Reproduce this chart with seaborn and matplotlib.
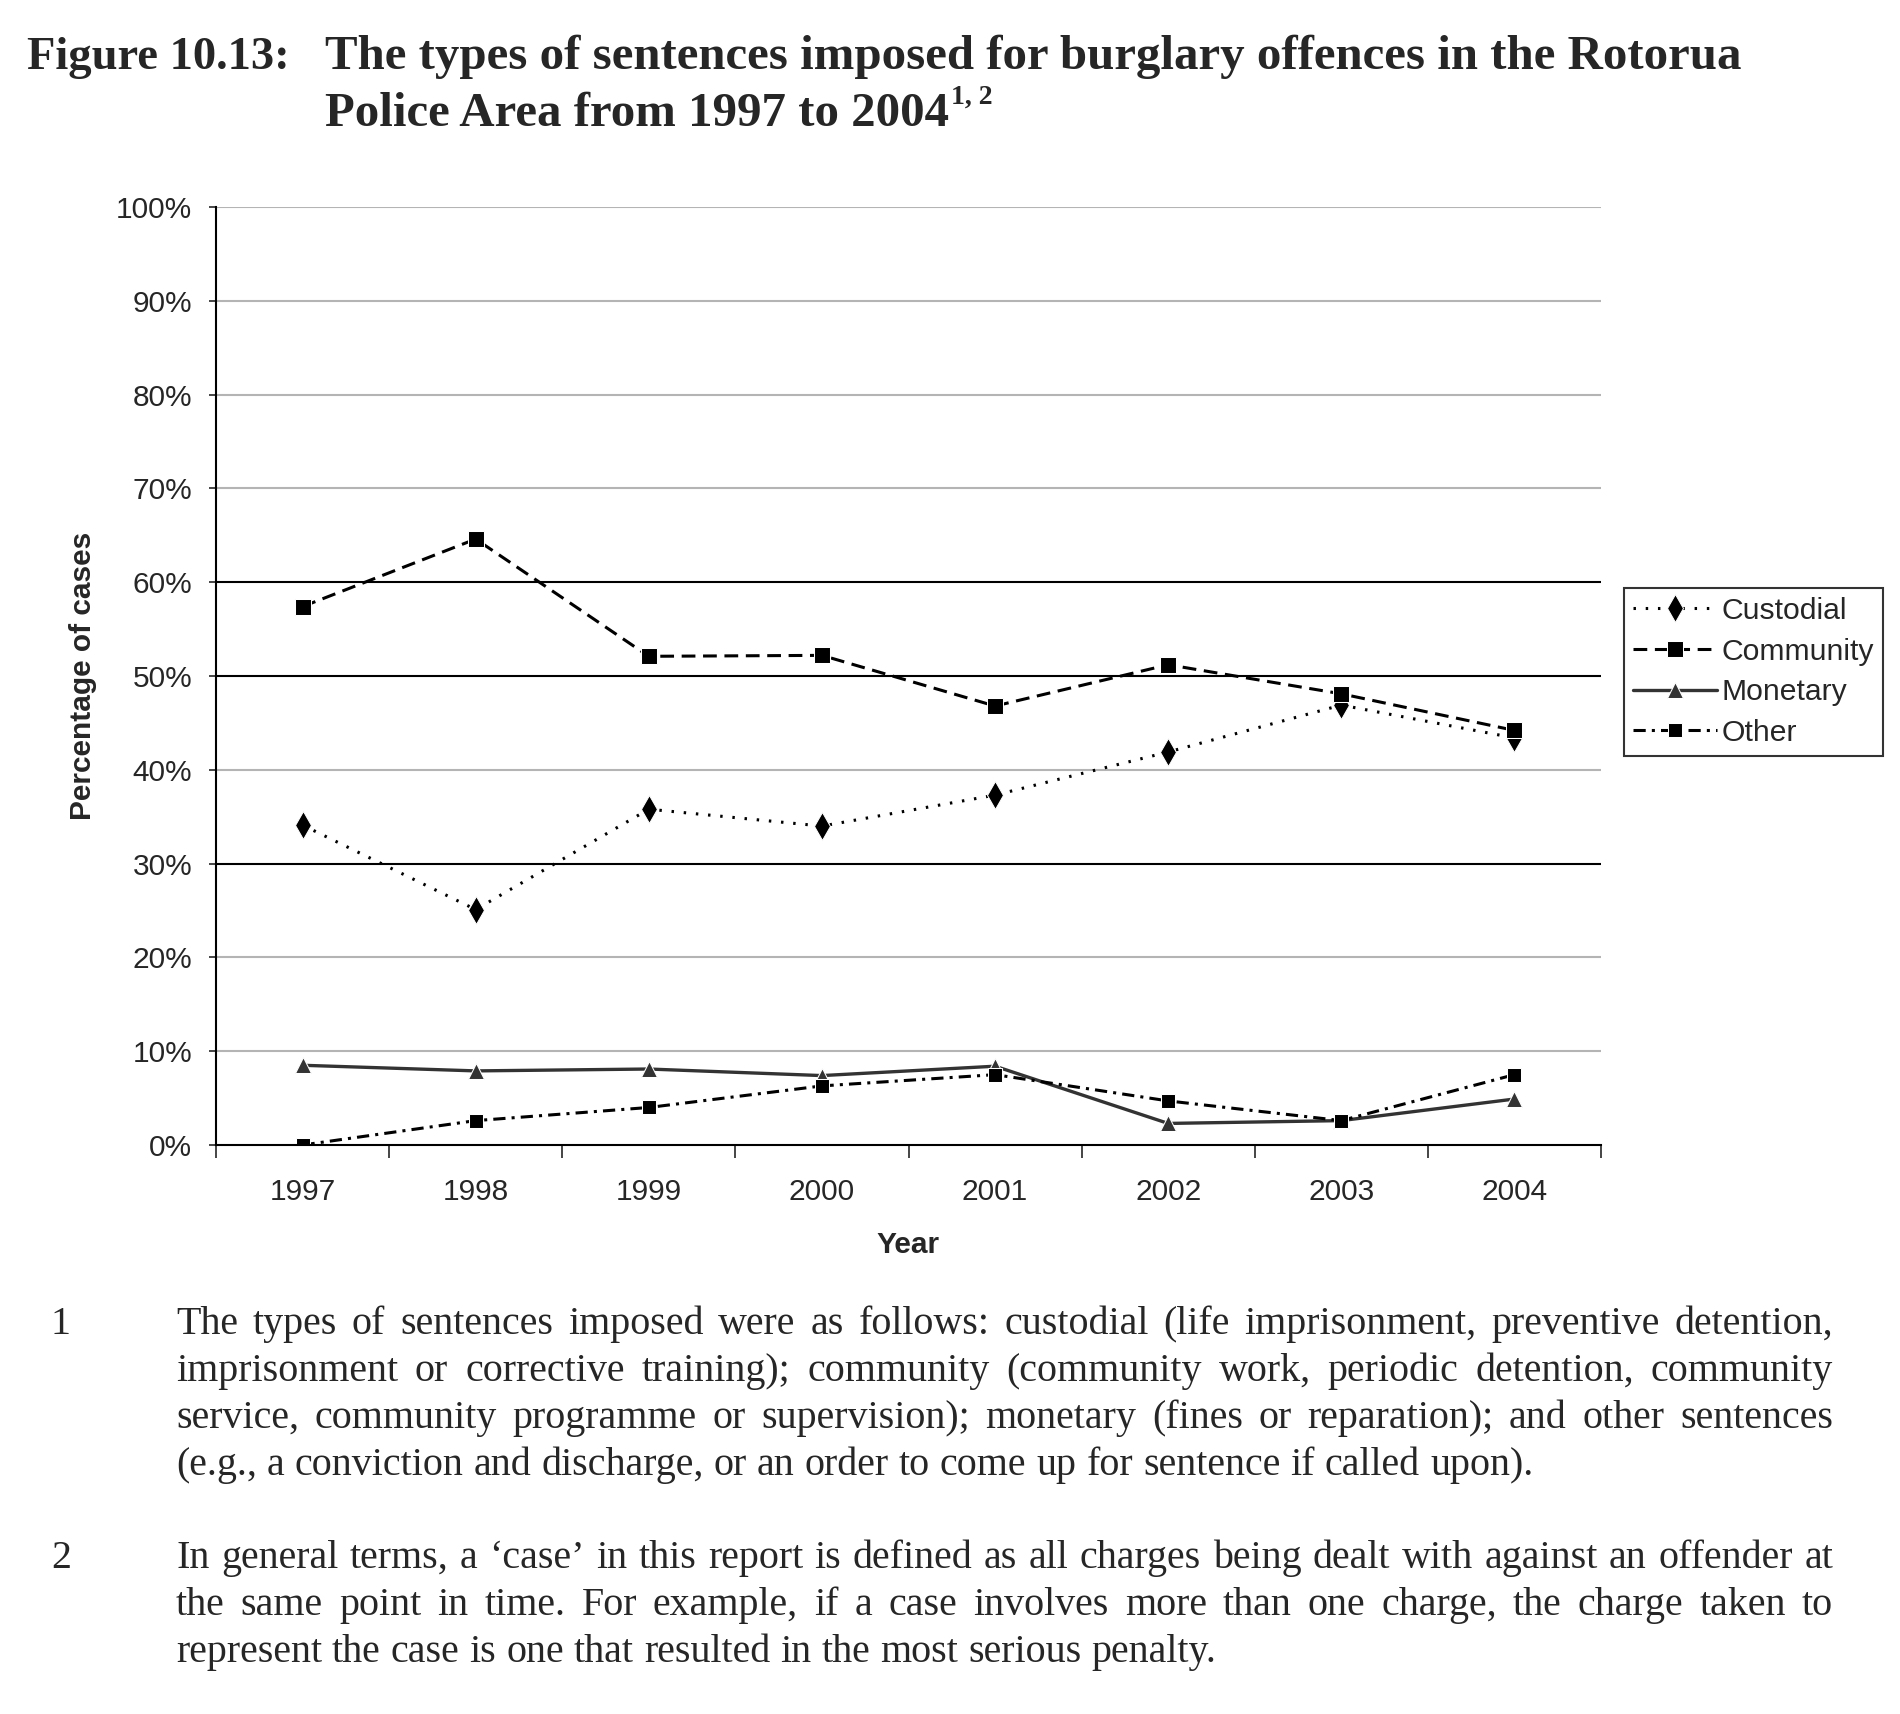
import matplotlib
matplotlib.use("Agg")
import matplotlib.pyplot as plt
import seaborn as sns
import pandas as pd

# data (percentage of cases)
years = ["1997", "1998", "1999", "2000", "2001", "2002", "2003", "2004"]
custodial = [34.1, 25.1, 35.8, 34.0, 37.3, 41.9, 46.9, 43.4]
community = [57.4, 64.6, 52.1, 52.2, 46.8, 51.2, 48.1, 44.2]
monetary = [8.5, 7.9, 8.1, 7.4, 8.4, 2.3, 2.6, 4.9]
other = [0.0, 2.6, 4.0, 6.3, 7.5, 4.7, 2.6, 7.5]
y_ticks = [0, 10, 20, 30, 40, 50, 60, 70, 80, 90, 100]

title_1 = "The types of sentences imposed for burglary offences in the Rotorua"
title_2 = "Police Area from 1997 to 2004"
note_1 = [
    "The types of sentences imposed were as follows: custodial (life imprisonment, preventive detention,",
    "imprisonment or corrective training); community (community work, periodic detention, community",
    "service, community programme or supervision); monetary (fines or reparation); and other sentences",
    "(e.g., a conviction and discharge, or an order to come up for sentence if called upon).",
]
note_2 = [
    "In general terms, a \u2018case\u2019 in this report is defined as all charges being dealt with against an offender at",
    "the same point in time.  For example, if a case involves more than one charge, the charge taken to",
    "represent the case is one that resulted in the most serious penalty.",
]

sns.set_style("white")
plt.rcParams["font.family"] = ["Liberation Sans", "DejaVu Sans"]

W, H = 1900, 1714
fig = plt.figure(figsize=(W / 100, H / 100), dpi=100)
ax = fig.add_axes([216 / W, 1 - 1145 / H, (1601 - 216) / W, (1145 - 207) / H])

df = pd.DataFrame({"Year": years, "Custodial": custodial, "Community": community,
                   "Monetary": monetary, "Other": other})

# grid lines (some rendered darker in the original)
grid_dark = [30, 50, 60]
for v in y_ticks[1:]:
    ax.axhline(v, color="black" if v in grid_dark else "#b4b4b4", lw=1.5, zorder=0)

sns.lineplot(data=df, x="Year", y="Custodial", ax=ax, color="black", lw=2.2,
             marker="d", markersize=14, linestyle=(0, (0.8, 3.2)),
             label="Custodial")
sns.lineplot(data=df, x="Year", y="Community", ax=ax, color="black", lw=2.2,
             marker="s", markersize=12, linestyle=(0, (4.5, 2.5)), label="Community")
sns.lineplot(data=df, x="Year", y="Monetary", ax=ax, color="#333333", lw=2.4,
             marker="^", markersize=12, label="Monetary")
sns.lineplot(data=df, x="Year", y="Other", ax=ax, color="black", lw=2.2,
             marker="s", markersize=10, linestyle=(0, (4, 2, 1, 2)), label="Other")

ax.set_xlim(-0.5, len(years) - 0.5)
ax.set_ylim(0, 100)
ax.set_yticks(y_ticks)
ax.set_yticklabels([f"{v}%" for v in y_ticks])
ax.set_xticks(range(len(years)))
ax.set_xticklabels(years)
ax.set_xticks([i - 0.5 for i in range(len(years) + 1)], minor=True)
ax.tick_params(axis="x", which="major", length=0, pad=24, labelsize=21.5)
ax.tick_params(axis="x", which="minor", length=9, width=1.2, direction="out", bottom=True)
ax.tick_params(axis="y", length=5, width=1.2, direction="out", left=True, pad=12, labelsize=21.5)
ax.set_xlabel("Year", fontsize=21.5, fontweight="bold", labelpad=18)
ax.set_ylabel("Percentage of cases", fontsize=21.5, fontweight="bold", labelpad=14)
for s in ["top", "right"]:
    ax.spines[s].set_visible(False)
for s in ["left", "bottom"]:
    ax.spines[s].set_color("black")
    ax.spines[s].set_linewidth(1.5)

leg = ax.legend(loc="upper left", bbox_to_anchor=(1624 / W, 1 - 588 / H),
                bbox_transform=fig.transFigure, fontsize=21.7, frameon=True,
                fancybox=False, handlelength=2.8, handletextpad=0.15,
                labelspacing=0.42, borderpad=0.3, borderaxespad=0)
leg.get_frame().set_edgecolor("black")
leg.get_frame().set_linewidth(1.5)

# title
serif = ["Liberation Serif", "DejaVu Serif"]
fig.text(27 / W, 1 - 69 / H, "Figure 10.13:", family=serif, fontsize=33.5,
         fontweight="bold", va="baseline")
fig.text(325 / W, 1 - 69 / H, title_1, family=serif, fontsize=35.2,
         fontweight="bold", va="baseline")
t2 = fig.text(325 / W, 1 - 126 / H, title_2, family=serif, fontsize=35.2,
              fontweight="bold", va="baseline")

fig.canvas.draw()
r = fig.canvas.get_renderer()
bb = t2.get_window_extent(r)
fig.text(bb.x1 / W + 2 / W, 1 - 104 / H, "1, 2", family=serif, fontsize=20,
         fontweight="bold", va="baseline")


def justified(lines, y0, step, x0=176, x1=1833, size=28.8):
    for i, line in enumerate(lines):
        y = 1 - (y0 + i * step) / H
        words = [w for w in line.split(" ") if w]
        texts = [fig.text(0, y, w, family=serif, fontsize=size, va="baseline") for w in words]
        widths = [t.get_window_extent(r).width for t in texts]
        if i == len(lines) - 1:
            gap = size * 100 / 72 * 0.25
        else:
            gap = (x1 - x0 - sum(widths)) / (len(words) - 1)
        x = x0
        for t, w in zip(texts, widths):
            t.set_x(x / W)
            x += w + gap


fig.text(51 / W, 1 - 1334 / H, "1", family=serif, fontsize=28.8, va="baseline")
justified(note_1, 1334, 47)
fig.text(51 / W, 1 - 1568 / H, "2", family=serif, fontsize=28.8, va="baseline")
justified(note_2, 1568, 47)

fig.savefig("out.png", dpi=100)
